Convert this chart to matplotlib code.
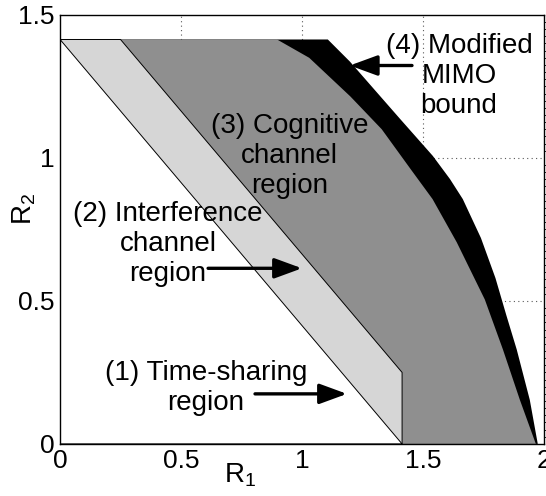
import matplotlib
matplotlib.use("Agg")
import matplotlib.pyplot as plt
from matplotlib.patches import Polygon
import numpy as np

plt.rcParams['font.family'] = ['Liberation Sans', 'DejaVu Sans']
plt.rcParams['mathtext.fontset'] = 'custom'
plt.rcParams['mathtext.rm'] = 'Liberation Sans'
plt.rcParams['mathtext.it'] = 'Liberation Sans'

# ---- data ----
# (4) Modified MIMO bound outer boundary
mimo_x = [0, 0, 1.107, 1.198, 1.405, 1.541, 1.612, 1.665, 1.74, 1.80, 1.845, 1.888, 1.942, 1.975]
mimo_y = [0, 1.414, 1.414, 1.337, 1.137, 1.007, 0.926, 0.856, 0.72, 0.58, 0.45, 0.330, 0.154, 0]
# (3) Cognitive channel region boundary
cog_x = [0, 0, 0.897, 1.03, 1.20, 1.33, 1.45, 1.54, 1.64, 1.756, 1.831, 1.901, 1.967]
cog_y = [0, 1.414, 1.414, 1.35, 1.215, 1.10, 0.96, 0.856, 0.705, 0.505, 0.330, 0.154, 0]
# (2) Interference channel region boundary
intf_x = [0, 0, 0.25, 1.414, 1.414]
intf_y = [0, 1.414, 1.414, 0.25, 0]
# (1) Time-sharing region boundary
ts_x = [0, 0, 1.414]
ts_y = [0, 1.414, 0]

xticks = [0, 0.5, 1, 1.5, 2]
xticklabels = ['0', '0.5', '1', '1.5', '2']
yticks = [0, 0.5, 1, 1.5]
yticklabels = ['0', '0.5', '1', '1.5']

fig = plt.figure(figsize=(5.46, 4.96), dpi=100)
ax = fig.add_axes([0.110, 0.105, 0.886, 0.865])
ax.set_xlim(0, 2)
ax.set_ylim(0, 1.5)

# grid (dotted, below the regions)
for gx in [0.5, 1, 1.5]:
    ax.axvline(gx, color='0.35', ls=(0, (1, 3)), lw=0.8, zorder=0)
for gy in [0.5, 1]:
    ax.axhline(gy, color='0.35', ls=(0, (1, 3)), lw=0.8, zorder=0)

ax.add_patch(Polygon(np.column_stack([mimo_x, mimo_y]), closed=True,
                     facecolor='black', edgecolor='none', zorder=1))
ax.add_patch(Polygon(np.column_stack([cog_x, cog_y]), closed=True,
                     facecolor='#8f8f8f', edgecolor='none', zorder=2))
ax.add_patch(Polygon(np.column_stack([intf_x, intf_y]), closed=True,
                     facecolor='#d6d6d6', edgecolor='black', lw=0.7, zorder=3))
ax.add_patch(Polygon(np.column_stack([ts_x, ts_y]), closed=True,
                     facecolor='white', edgecolor='black', lw=0.7, zorder=4))

fs = 20
txt_kw = dict(ha='center', va='center', multialignment='center', fontsize=fs,
              linespacing=1.2, zorder=6)
ax.text(1.649, 1.288, "(4) Modified\nMIMO\nbound", **txt_kw)
ax.text(0.95, 1.005, "(3) Cognitive\nchannel\nregion", **txt_kw)
ax.text(0.446, 0.698, "(2) Interference\nchannel\nregion", **txt_kw)
ax.text(0.603, 0.196, "(1) Time-sharing\nregion", **txt_kw)

arr = dict(arrowstyle='-|>,head_length=0.6,head_width=0.22', lw=2.4, color='black',
           mutation_scale=28, shrinkA=0, shrinkB=0)
ax.annotate('', xy=(1.198, 1.323), xytext=(1.455, 1.323), arrowprops=arr, zorder=7)
ax.annotate('', xy=(1.0, 0.614), xytext=(0.612, 0.614), arrowprops=arr, zorder=7)
ax.annotate('', xy=(1.186, 0.175), xytext=(0.806, 0.175), arrowprops=arr, zorder=7)

ax.set_xticks(xticks)
ax.set_xticklabels(xticklabels)
ax.set_yticks(yticks)
ax.set_yticklabels(yticklabels)
ax.tick_params(direction='in', length=0, labelsize=19, pad=4)
ax.yaxis.set_minor_locator(matplotlib.ticker.MultipleLocator(0.025))
ax.tick_params(axis='y', which='minor', right=True, left=False, direction='out', length=2, width=0.6)

for s in ax.spines.values():
    s.set_linewidth(1.0)
    s.set_zorder(8)

ax.set_xlabel(r'R$_1$', fontsize=20)
ax.xaxis.set_label_coords(0.372, -0.04)
ax.xaxis.label.set_va('top')
ax.set_ylabel(r'R$_2$', fontsize=20)
ax.yaxis.set_label_coords(-0.045, 0.547)

fig.savefig('out.png', dpi=100)
